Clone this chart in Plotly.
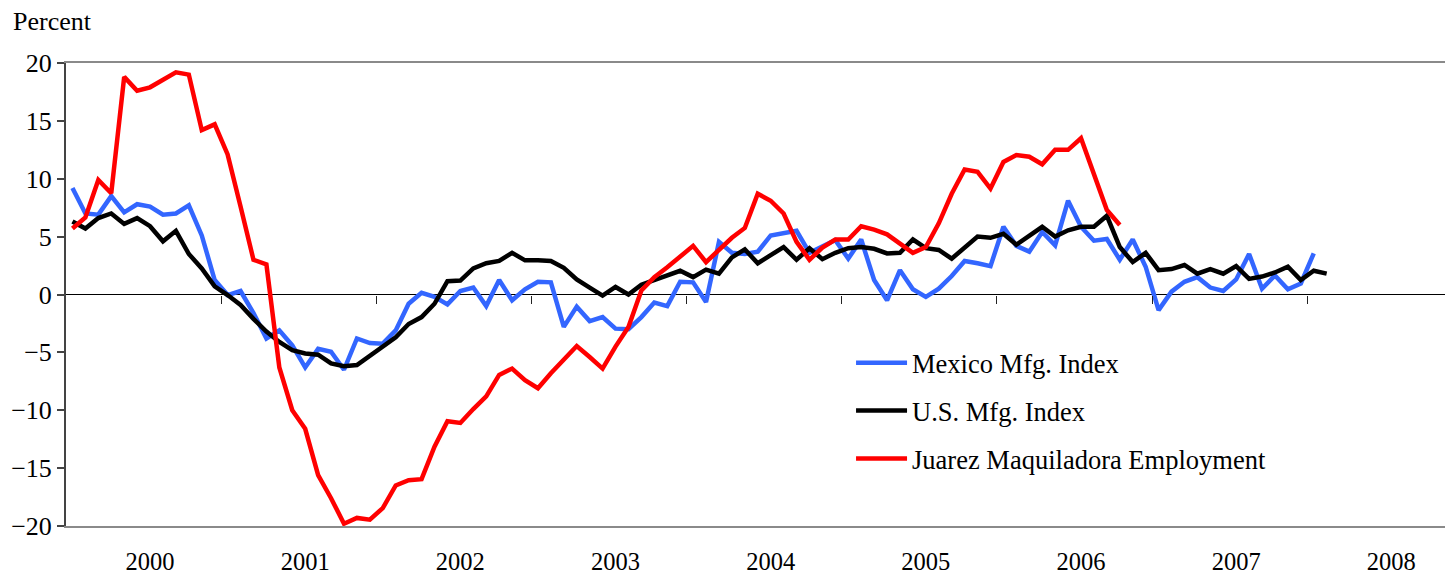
import plotly.graph_objects as go

# Monthly year-over-year percent changes, Jan 2000 onward
mexico = [9.2, 7.0, 6.9, 8.5, 7.1, 7.8, 7.6, 6.9, 7.0, 7.7,
          5.1, 1.25, -0.05, 0.3, -1.6, -3.8, -3.1, -4.4, -6.3, -4.7,
          -4.95, -6.5, -3.8, -4.2, -4.25, -3.1, -0.8, 0.15, -0.2, -0.85,
          0.3, 0.6, -1.0, 1.25, -0.5, 0.45, 1.1, 1.05, -2.8, -1.05,
          -2.3, -1.95, -2.95, -3.0, -1.95, -0.7, -1.0, 1.1, 1.05, -0.65,
          4.55, 3.6, 3.5, 3.7, 5.1, 5.3, 5.5, 3.6, 4.2, 4.7,
          3.1, 4.75, 1.25, -0.5, 2.1, 0.45, -0.2, 0.5, 1.6, 2.9,
          2.7, 2.45, 5.85, 4.2, 3.7, 5.4, 4.25, 8.1, 5.85, 4.65,
          4.8, 3.0, 4.75, 2.4, -1.35, 0.25, 1.1, 1.5, 0.6, 0.3,
          1.3, 3.5, 0.5, 1.65, 0.45, 0.95, 3.55]

us = [6.3, 5.7, 6.6, 7.0, 6.1, 6.6, 5.9, 4.6, 5.5, 3.5,
      2.25, 0.7, -0.05, -0.9, -2.1, -3.2, -4.1, -4.8, -5.1, -5.2,
      -5.95, -6.2, -6.1, -5.3, -4.4, -3.7, -2.55, -1.95, -0.8, 1.15,
      1.2, 2.25, 2.7, 2.9, 3.6, 2.95, 2.95, 2.9, 2.3, 1.3,
      0.6, -0.1, 0.65, 0.0, 0.85, 1.25, 1.65, 2.05, 1.5, 2.15,
      1.8, 3.2, 3.9, 2.7, 3.4, 4.1, 3.0, 4.0, 3.05, 3.6,
      4.0, 4.1, 3.95, 3.55, 3.6, 4.75, 4.0, 3.85, 3.1, 4.0,
      5.0, 4.9, 5.25, 4.3, 5.1, 5.85, 5.0, 5.55, 5.85, 5.85,
      6.8, 4.1, 2.8, 3.6, 2.1, 2.2, 2.55, 1.8, 2.2, 1.8,
      2.45, 1.35, 1.55, 1.9, 2.4, 1.25, 2.05, 1.8]

juarez = [5.7, 6.65, 9.9, 8.75, 18.8, 17.6, 17.9, 18.6, 19.2, 19.0,
          14.2, 14.7, 12.1, 7.6, 3.0, 2.6, -6.3, -10.0, -11.6, -15.6,
          -17.6, -19.8, -19.3, -19.45, -18.45, -16.5, -16.05, -15.95, -13.15, -10.95,
          -11.1, -9.9, -8.8, -6.95, -6.4, -7.4, -8.1, -6.8, -5.6, -4.45,
          -5.4, -6.4, -4.5, -2.8, 0.35, 1.5, 2.35, 3.25, 4.2, 2.8,
          3.9, 4.9, 5.75, 8.7, 8.1, 7.0, 4.55, 3.0, 4.05, 4.75,
          4.75, 5.9, 5.6, 5.2, 4.4, 3.6, 4.1, 6.15, 8.7, 10.8,
          10.6, 9.15, 11.45, 12.05, 11.9, 11.25, 12.5, 12.5, 13.5, 10.5,
          7.3, 6.0]

years = ["2000", "2001", "2002", "2003", "2004", "2005", "2006", "2007", "2008"]
series_names = ["Mexico Mfg. Index", "U.S. Mfg. Index", "Juarez Maquiladora Employment"]
y_ticks = [20, 15, 10, 5, 0, -5, -10, -15, -20]

year_label_pos = [6 + 12 * k for k in range(len(years))]
year_boundaries = [11.5 + 12 * k for k in range(len(years) - 1)]

FONT = "Liberation Serif"

fig = go.Figure()
for name, vals, color, grp in [
    (series_names[0], mexico, "#3366FF", "a"),
    (series_names[1], us, "#000000", "b"),
    (series_names[2], juarez, "#FF0000", "c"),
]:
    fig.add_trace(go.Scatter(
        x=list(range(len(vals))), y=vals, mode="lines", name=name,
        legendgroup=grp,
        line=dict(color=color, width=4.5),
    ))

# helper trace so that the zero-crossing axis (ticks on the zero line) is drawn
fig.add_trace(go.Scatter(x=[None], y=[None], xaxis="x2", showlegend=False,
                         hoverinfo="skip"))

# the page has an 8px body margin, so the figure is sized/offset to compensate
fig.update_layout(
    width=1445, height=567,
    margin=dict(l=58, r=0, t=55, b=49),
    paper_bgcolor="white", plot_bgcolor="white",
    font=dict(family=FONT, color="black", size=24),
    xaxis=dict(
        range=[-0.5, 106.77], automargin=False,
        tickmode="array", tickvals=year_label_pos, ticktext=years,
        ticks="", showgrid=False, zeroline=False,
        showline=True, linecolor="#8a8a8a", linewidth=2, mirror=True,
        tickfont=dict(family=FONT, size=24.5, color="black"),
        ticklabelstandoff=13,
    ),
    xaxis2=dict(
        overlaying="x", matches="x", anchor="free", position=0.5,
        automargin=False,
        tickmode="array", tickvals=year_boundaries,
        ticks="outside", ticklen=8, tickwidth=1, tickcolor="#222222",
        showticklabels=False, showline=False, showgrid=False, zeroline=False,
    ),
    yaxis=dict(
        range=[-20, 20], automargin=False, tickmode="array", tickvals=y_ticks,
        ticks="outside", ticklen=7, tickwidth=1.5, tickcolor="#444444",
        showgrid=False, zeroline=True, zerolinecolor="black", zerolinewidth=1,
        showline=True, linecolor="#444444", linewidth=2,
        tickfont=dict(family=FONT, size=26, color="black"),
    ),
    legend=dict(
        x=0.566, y=0.404, xanchor="left", yanchor="top",
        font=dict(family=FONT, size=26.5, color="black"),
        itemwidth=51, tracegroupgap=10.5, bgcolor="rgba(0,0,0,0)",
    ),
    annotations=[dict(
        text="Percent", xref="paper", yref="paper",
        x=-0.0395, y=1.089, xanchor="left", yanchor="middle",
        showarrow=False, font=dict(family=FONT, size=26, color="black"),
    )],
    showlegend=True,
)

fig.write_html("out.html")
